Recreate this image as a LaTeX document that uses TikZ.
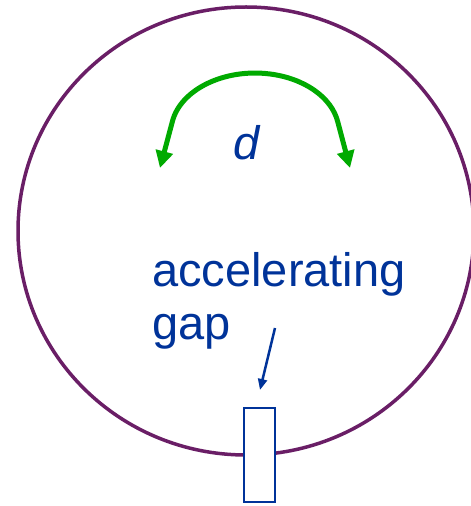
\documentclass[tikz,border=0pt]{standalone}
\usepackage{fontspec}
\setmainfont{Liberation Sans}
\usetikzlibrary{arrows.meta}
\definecolor{ringpurple}{RGB}{106,30,102}
\definecolor{spangreen}{RGB}{0,170,0}
\definecolor{gapblue}{RGB}{0,51,153}
\tikzset{ring/.style={ringpurple, line width=3.5pt},
  span/.style={spangreen, line width=5pt, {Triangle[width=17pt,length=17pt]}-{Triangle[width=17pt,length=17pt]}},
  bluetext/.style={gapblue, font=\fontsize{47}{53}\selectfont, inner sep=0pt},
  gapbox/.style={draw=gapblue, fill=white, line width=2pt, inner sep=0pt, minimum width=31pt, minimum height=94pt},
  pointer/.style={gapblue, line width=2.5pt, -{Triangle[width=9pt,length=11pt]}}}

\begin{document}
\begin{tikzpicture}[x=1pt, y=1pt]
\useasboundingbox (0,0) rectangle (471,506);
\coordinate (o) at (246,275);
\draw[ring] (o) ellipse [x radius=228, y radius=224];
% the gap on the ring
\node[gapbox] (gap) at (259.5,51) {};
\node[bluetext, anchor=base west, align=left] (lbl) at (152,166) {accelerating\\gap};
\coordinate (p1) at (275,178); \coordinate (p2) at (260,116);
\draw[pointer] (p1) -- (p2);
% distance d
\coordinate (dl) at (160,338); \coordinate (dr) at (350,338);
\coordinate (al) at (172.3,384.2);
\draw[span] (dl) -- (al) arc[start angle=170, end angle=10, x radius=84, y radius=59] -- (dr);
\node[bluetext, font=\fontsize{47}{53}\selectfont\itshape, anchor=base] (d) at (247,346) {d};
\end{tikzpicture}
\end{document}
